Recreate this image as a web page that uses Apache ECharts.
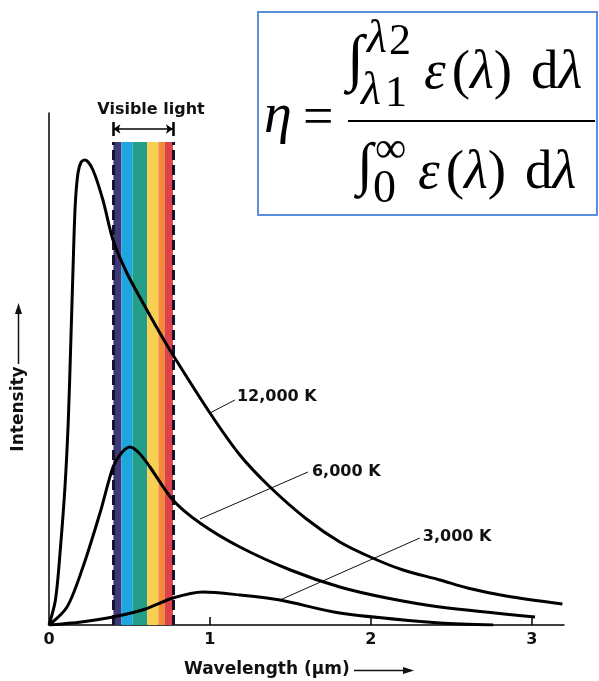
<!DOCTYPE html>
<html>
<head>
	<meta http-equiv="Content-Type" content="text/html; charset=UTF-8">
	<title>Blackbody</title>
	<script src="https://cdn.jsdelivr.net/npm/echarts@6/dist/echarts.min.js"></script>
	<style>
		body { margin: 0; background: #fff; }
	</style>
</head>
<body>

	<div id="main" style="width: 599px;height:681px;"></div>

	<script>

		// wavelength (um) / intensity (arbitrary units)
		const wl12000 = [0, 0.04, 0.07, 0.1, 0.12, 0.135, 0.15, 0.163, 0.18, 0.2, 0.224, 0.273, 0.335, 0.398, 0.484, 0.584, 0.689, 0.77, 1.0, 1.186, 1.373, 1.6, 1.807, 2.01, 2.2, 2.43, 2.6, 2.84, 3.19];
		const int12000 = [0, 25, 75, 140, 205, 280, 360, 420, 452, 463, 465, 455, 425, 385, 352, 322, 292, 270, 212, 170, 138, 106, 83, 67, 55, 45, 37, 29, 21];

		const wl6000 = [0, 0.112, 0.211, 0.317, 0.398, 0.45, 0.503, 0.56, 0.627, 0.77, 0.938, 1.186, 1.5, 1.807, 2.1, 2.43, 3.02];
		const int6000 = [0, 18, 58, 112, 158, 172, 178, 172, 158, 125, 102, 78, 55, 38, 27, 18, 8];

		const wl3000 = [0, 0.2, 0.398, 0.6, 0.77, 0.957, 1.186, 1.435, 1.807, 2.43, 2.76];
		const int3000 = [0, 3, 8, 16, 27, 33, 30, 25, 12, 2, 0];

		const curveNames = ['12,000 K', '6,000 K', '3,000 K'];
		const leaderFrom = [[1.0, 212], [0.938, 106], [1.435, 25]];
		const leaderTo = [[1.155, 225], [1.609, 153], [2.304, 87]];
		const labelAt = [[1.168, 228], [1.634, 153], [2.323, 88]];

		const xTicks = [0, 1, 2, 3];
		const bandEdges = [0.4, 0.45, 0.52, 0.61, 0.68, 0.72, 0.77];
		const bandColors = ['#3f3878', '#1ea6de', '#239e88', '#f7cf52', '#f48b3a', '#de434b'];
		const bandTop = 483;
		const visibleArrowY = 496;


		function pairs(xs, ys) {
			var out = [];
			for (var i = 0; i < xs.length; i++) {
				out.push([xs[i], ys[i]]);
			}
			return out;
		}

		var chartDom = document.getElementById('main');
		var myChart = echarts.init(chartDom);
		var option;

		var labelFont = 'DejaVu Sans';
		var mathFont = 'Liberation Serif';

		var bandAreas = [];
		for (var i = 0; i < bandColors.length; i++) {
			bandAreas.push([
				{ xAxis: bandEdges[i], yAxis: 0, itemStyle: { color: bandColors[i] } },
				{ xAxis: bandEdges[i + 1], yAxis: bandTop }
			]);
		}
		var lo = bandEdges[0], hi = bandEdges[bandEdges.length - 1];

		var curveData = [pairs(wl12000, int12000), pairs(wl6000, int6000), pairs(wl3000, int3000)];
		var curveSeries = [];
		for (var k = 0; k < 3; k++) {
			curveSeries.push({
				name: curveNames[k],
				type: 'line',
				data: curveData[k],
				smooth: 0.3,
				symbol: 'none',
				z: 5,
				lineStyle: { color: '#000', width: 3 },
				markLine: {
					silent: true,
					symbol: ['none', 'none'],
					label: { show: false },
					lineStyle: { color: '#111', width: 1, type: 'solid' },
					data: [[{ coord: leaderFrom[k] }, { coord: leaderTo[k] }]]
				},
				markPoint: {
					silent: true,
					symbolSize: 0,
					label: {
						show: true,
						position: 'right',
						distance: 0,
						formatter: curveNames[k],
						color: '#111',
						fontFamily: labelFont,
						fontWeight: 'bold',
						fontSize: 16
					},
					data: [{ coord: labelAt[k] }]
				}
			});
		}

		var mathText = function (text, x, y, size, italic) {
			return {
				type: 'text',
				z: 20,
				style: {
					text: text, x: x, y: y,
					fontSize: size, fontFamily: mathFont,
					fontStyle: italic ? 'italic' : 'normal',
					fill: '#000', align: 'left', verticalAlign: 'middle'
				}
			};
		};
		var mathRich = {
			i: { fontStyle: 'italic', fontSize: 55, fontFamily: mathFont, color: '#000' },
			r: { fontSize: 55, fontFamily: mathFont, color: '#000' },
			g: { fontSize: 55, fontFamily: mathFont, width: 19 },
			t: { fontSize: 55, fontFamily: mathFont, width: 6 }
		};
		var integrand = '{i|\u03b5}{t| }{r|(}{i|\u03bb}{r|)}{g| }{r|d}{i|\u03bb}';

		option = {
			animation: false,
			backgroundColor: '#fff',
			grid: { left: 49, right: 35, top: 113, bottom: 56 },
			xAxis: {
				type: 'value',
				min: 0,
				max: 3.2,
				interval: 1,
				splitLine: { show: false },
				axisLine: { lineStyle: { color: '#000', width: 1.5 } },
				axisTick: { inside: true, length: 8, customValues: [1, 2, 3], lineStyle: { color: '#000', width: 1.5 } },
				axisLabel: {
					customValues: xTicks,
					margin: 7,
					color: '#111',
					fontFamily: labelFont,
					fontWeight: 'bold',
					fontSize: 16
				}
			},
			yAxis: {
				type: 'value',
				min: 0,
				max: 512,
				splitLine: { show: false },
				axisTick: { show: false },
				axisLabel: { show: false },
				axisLine: { show: true, lineStyle: { color: '#000', width: 1.5 } }
			},
			series: [
				{
					name: 'visible',
					type: 'line',
					data: [],
					z: 1,
					markArea: {
						silent: true,
						data: bandAreas
					},
					markLine: {
						silent: true,
						symbol: ['none', 'none'],
						label: { show: false },
						data: [
							[{ coord: [lo, 0], lineStyle: { type: [10, 5], width: 3, color: '#15132a' } },
							 { coord: [lo, bandTop] }],
							[{ coord: [hi, 0], lineStyle: { type: [10, 5], width: 3, color: '#15132a' } },
							 { coord: [hi, bandTop] }],
							[{ coord: [lo, visibleArrowY], symbol: 'arrow', symbolSize: [7, 7], lineStyle: { type: 'solid', width: 1.5, color: '#000' } },
							 { coord: [hi, visibleArrowY], symbol: 'arrow', symbolSize: [7, 7] }],
							[{ coord: [lo, visibleArrowY - 7], lineStyle: { type: 'solid', width: 2.5, color: '#000' } },
							 { coord: [lo, visibleArrowY + 7] }],
							[{ coord: [hi, visibleArrowY - 7], lineStyle: { type: 'solid', width: 2.5, color: '#000' } },
							 { coord: [hi, visibleArrowY + 7] }]
						]
					}
				}
			].concat(curveSeries),
			graphic: [
				// axis names
				{
					type: 'text', x: 151, y: 110,
					style: { text: 'Visible light', fontFamily: labelFont, fontWeight: 'bold', fontSize: 16, fill: '#111', align: 'center', verticalAlign: 'middle' }
				},
				{
					type: 'text', x: 18.5, y: 409, rotation: Math.PI / 2,
					style: { text: 'Intensity', fontFamily: labelFont, fontWeight: 'bold', fontSize: 17, fill: '#111', align: 'center', verticalAlign: 'middle' }
				},
				{ type: 'line', shape: { x1: 18.5, y1: 364, x2: 18.5, y2: 311 }, style: { stroke: '#111', lineWidth: 1.5 } },
				{ type: 'polygon', shape: { points: [[18.5, 303], [15, 314], [22, 314]] }, style: { fill: '#111' } },
				{
					type: 'text', x: 184, y: 670,
					style: { text: 'Wavelength (\u00b5m)', fontFamily: labelFont, fontWeight: 'bold', fontSize: 17, fill: '#111', align: 'left', verticalAlign: 'middle' }
				},
				{ type: 'line', shape: { x1: 354, y1: 670.5, x2: 406, y2: 670.5 }, style: { stroke: '#111', lineWidth: 1.5 } },
				{ type: 'polygon', shape: { points: [[414, 670.5], [403, 667], [403, 674]] }, style: { fill: '#111' } },

				// efficiency formula box
				{
					type: 'rect', z: 10,
					shape: { x: 258, y: 12, width: 339, height: 203 },
					style: { fill: '#fff', stroke: '#5b8fd9', lineWidth: 2 }
				},
				mathText('\u03b7', 264, 117, 56, true),
				mathText('=', 303, 120, 54, false),
				{ type: 'line', z: 20, shape: { x1: 348, y1: 121, x2: 595, y2: 121 }, style: { stroke: '#000', lineWidth: 2 } },
				mathText('\u222b', 347, 62, 62, false),
				mathText('\u03bb', 367, 40, 46, true),
				mathText('2', 389, 42, 44, false),
				mathText('\u03bb', 361, 92, 46, true),
				mathText('1', 385, 94, 44, false),
				{
					type: 'text', z: 20,
					style: { text: integrand, rich: mathRich, x: 424, y: 74, align: 'left', verticalAlign: 'middle' }
				},
				mathText('\u222b', 357, 168, 58, false),
				mathText('\u221e', 375, 150, 44, false),
				mathText('0', 373, 190, 46, false),
				{
					type: 'text', z: 20,
					style: { text: integrand, rich: mathRich, x: 418, y: 174, align: 'left', verticalAlign: 'middle' }
				}
			]
		};

		option && myChart.setOption(option);

	</script>

</body>
</html>
